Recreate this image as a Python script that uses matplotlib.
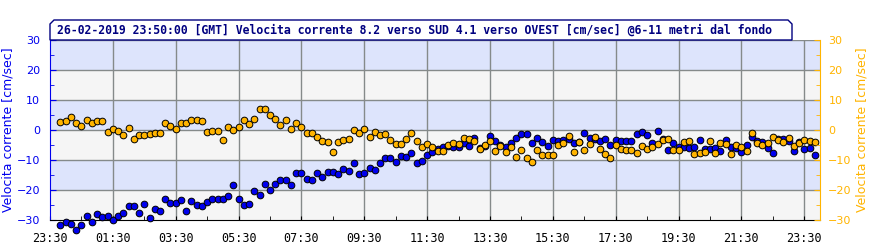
import matplotlib
matplotlib.use("Agg")
import matplotlib.pyplot as plt
import matplotlib.dates as mdates
from matplotlib.patches import Polygon
import pandas as pd
import numpy as np

title = "26-02-2019 23:50:00 [GMT] Velocita corrente 8.2 verso SUD 4.1 verso OVEST [cm/sec] @6-11 metri dal fondo"
ylabel = "Velocita corrente [cm/sec]"
start_time = "2019-02-25 23:50"
xlim_start = "2019-02-25 23:30"
xlim_end = "2019-02-27 00:00"

sud = [-31.7, -30.8, -31.4, -33.3, -31.8, -28.8, -30.8, -28.1, -29.1, -28.8,
       -30.1, -28.8, -27.8, -25.4, -25.4, -27.8, -24.8, -29.4, -26.4, -27.1,
       -23.1, -24.4, -24.4, -23.4, -27.1, -23.8, -25.1, -25.4, -24.1, -23.1,
       -23.1, -23.1, -22.1, -18.4, -23.1, -25.1, -24.8, -20.4, -21.8, -18.1,
       -20.1, -18.1, -16.8, -16.8, -18.4, -14.4, -14.4, -16.4, -16.8, -14.4,
       -15.8, -14.1, -14.1, -14.8, -13.1, -13.8, -11.1, -14.8, -14.4, -12.8,
       -13.4, -11.1, -9.4, -9.4, -10.8, -8.8, -9.1, -7.8, -11.1, -10.4,
       -8.4, -7.4, -6.2, -5.8, -5.2, -5.6, -5.8, -4.4, -5.4, -2.8,
       -6.1, -5.4, -2.0, -3.8, -5.1, -5.8, -4.4, -2.8, -1.4, -1.4,
       -4.4, -2.8, -4.1, -5.4, -3.4, -3.8, -3.4, -3.1, -4.4, -4.0,
       -1.1, -2.8, -3.1, -3.8, -3.1, -5.1, -3.4, -3.8, -3.8, -3.8,
       -1.4, -0.8, -1.8, -4.4, -0.4, -3.0, -6.8, -4.4, -5.8, -5.8,
       -6.1, -5.8, -3.4, -6.4, -6.4, -6.0, -7.1, -3.4, -5.8, -6.1,
       -7.4, -5.1, -2.4, -3.5, -4.1, -6.1, -7.8, -3.0, -3.1, -3.8,
       -7.1, -4.0, -6.4, -6.1, -8.4]

ovest = [2.6, 3.0, 4.3, 2.2, 1.2, 3.2, 2.2, 3.0, 3.0, -0.8,
         0.3, -0.4, -1.7, 0.6, -3.0, -1.7, -1.6, -1.4, -1.1, -1.1,
         2.2, 1.2, 0.2, 2.2, 2.2, 3.2, 3.2, 2.9, -0.8, -0.4,
         -0.4, -3.4, 1.0, 0.0, 1.0, 3.3, 1.9, 3.6, 7.0, 7.0,
         5.0, 3.6, 1.7, 3.2, 0.2, 2.2, 0.9, -1.1, -1.1, -2.2,
         -3.7, -4.0, -7.4, -4.1, -3.4, -3.1, -0.1, -1.1, 0.2, -2.3,
         -0.8, -1.8, -1.4, -3.4, -4.8, -4.8, -3.1, -1.1, -3.8, -5.8,
         -4.8, -5.8, -6.9, -6.9, -4.9, -4.4, -4.8, -2.8, -3.1, -3.8,
         -6.3, -5.1, -3.8, -6.9, -5.4, -7.4, -5.8, -9.1, -6.8, -9.4,
         -10.8, -6.8, -8.4, -8.4, -8.4, -5.1, -4.4, -2.1, -7.4, -4.1,
         -6.8, -4.8, -2.4, -6.4, -8.1, -9.4, -5.1, -6.4, -6.8, -6.8,
         -7.8, -5.4, -6.4, -5.8, -4.8, -3.4, -3.1, -6.8, -6.8, -4.1,
         -3.8, -8.1, -7.8, -7.4, -3.8, -7.8, -4.4, -4.8, -8.1, -5.1,
         -5.8, -7.1, -1.1, -4.4, -5.1, -4.4, -2.4, -3.4, -4.1, -2.8,
         -5.4, -4.4, -3.4, -3.8, -4.1]

times = pd.date_range(start_time, periods=len(sud), freq="10min")

BLUE = "#0000ee"
ORANGE = "#ffb400"
NAVY = "#000080"
BAND_BLUE = "#dde4fc"
BAND_GRAY = "#f5f5f5"
GRID = "#858a8a"

W, H = 890, 250
fig = plt.figure(figsize=(W / 100, H / 100), dpi=100)
L, R, T, B = 50, 820, 40, 220
ax = fig.add_axes([L / W, 1 - B / H, (R - L) / W, (B - T) / H])

ymin, ymax = -30, 30
x0 = mdates.date2num(pd.Timestamp(xlim_start))
x1 = mdates.date2num(pd.Timestamp(xlim_end))
ax.set_xlim(x0, x1)
ax.set_ylim(ymin, ymax)

for k, lo in enumerate(range(ymax - 10, ymin - 10, -10)):
    ax.axhspan(lo, lo + 10, color=BAND_BLUE if k % 2 == 0 else BAND_GRAY, lw=0, zorder=0)

major = mdates.date2num(pd.date_range(xlim_start, periods=13, freq="2h"))
minor = mdates.date2num(pd.date_range(xlim_start, periods=25, freq="1h"))
ax.xaxis.set_major_locator(matplotlib.ticker.FixedLocator(major))
ax.xaxis.set_minor_locator(matplotlib.ticker.FixedLocator(minor))
ax.xaxis.set_major_formatter(mdates.DateFormatter("%H:%M"))
ax.set_yticks(range(ymin, ymax + 1, 10))
ax.set_yticks(range(ymin, ymax + 1, 5), minor=True)

for xv in major[1:]:
    ax.axvline(xv, color=GRID, lw=1.0, zorder=1)
for yv in range(ymin + 10, ymax + 1, 10):
    ax.axhline(yv, color=GRID, lw=1.0, zorder=1)

ax.plot(times, sud, ls="none", marker="o", ms=4.8, mfc=BLUE, mec="black",
        mew=0.7, zorder=3, clip_on=False)
ax.plot(times, ovest, ls="none", marker="o", ms=4.8, mfc=ORANGE, mec="black",
        mew=0.7, zorder=4, clip_on=False)

ax.spines["top"].set_visible(False)
ax.spines["left"].set_color(BLUE)
ax.spines["right"].set_visible(False)
ax.spines["bottom"].set_color("black")
ax.tick_params(axis="x", which="both", direction="in", length=3, colors="black",
               labelsize=8.5, pad=9)
for lab in ax.get_xticklabels():
    lab.set_family("DejaVu Sans Mono")
ax.tick_params(axis="y", which="major", direction="in", length=4, colors=BLUE,
               labelsize=8, pad=7)
ax.tick_params(axis="y", which="minor", direction="in", length=3, colors=BLUE)

ax2 = ax.twinx()
ax2.set_ylim(ymin, ymax)
ax2.set_yticks(range(ymin, ymax + 1, 10))
ax2.set_yticks(range(ymin, ymax + 1, 5), minor=True)
for s in ["top", "left", "bottom"]:
    ax2.spines[s].set_visible(False)
ax2.spines["right"].set_color(ORANGE)
ax2.tick_params(axis="y", which="major", direction="in", length=4, colors=ORANGE,
                labelsize=8, pad=6)
ax2.tick_params(axis="y", which="minor", direction="in", length=3, colors=ORANGE)

fig.text(8 / W, 1 - 130 / H, ylabel, rotation=90, color=BLUE, fontsize=9,
         ha="center", va="center")
fig.text(862 / W, 1 - 130 / H, ylabel, rotation=90, color=ORANGE, fontsize=9,
         ha="center", va="center")

pts = [(50, 40), (50, 24), (54, 20), (788, 20), (792, 24), (792, 40)]
poly = Polygon([(x / W, 1 - y / H) for x, y in pts], closed=True,
               transform=fig.transFigure, facecolor="white", edgecolor=NAVY,
               lw=1.0, zorder=10)
fig.patches.append(poly)
fig.text(57 / W, 1 - 30.5 / H, title, family="DejaVu Sans Mono", weight="bold",
         fontsize=8.3, color=NAVY, ha="left", va="center", zorder=11)

fig.savefig("out.png", dpi=100)
